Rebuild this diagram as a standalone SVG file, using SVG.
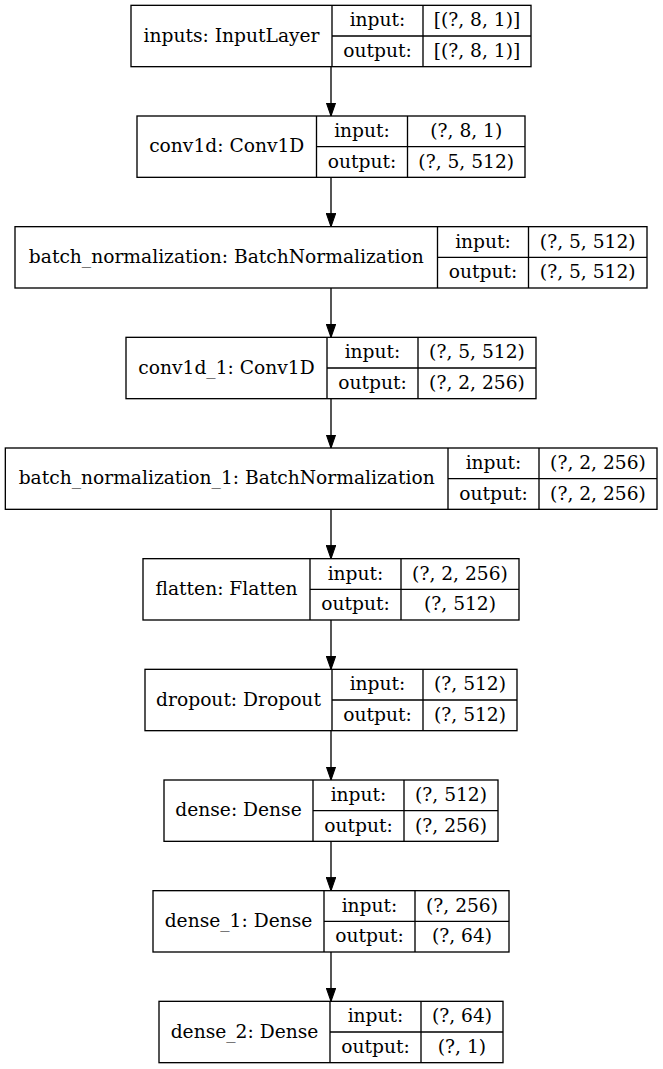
<svg xmlns="http://www.w3.org/2000/svg" width="663" height="1069" viewBox="0 0 663 1069">
  <style>
    .box { fill: #ffffff; stroke: #000000; stroke-width: 1.33; }
    .sep { stroke: #000000; stroke-width: 1.33; fill: none; }
    text { font-family: "DejaVu Serif", "Liberation Serif", serif; font-size: 18.67px; fill: #000000; text-anchor: middle; }
    .edge { stroke: #000000; stroke-width: 1.33; fill: none; marker-end: url(#arrow); }
  </style>
  <defs>
    <marker id="arrow" viewBox="0 0 10 7" refX="10" refY="3.5" markerWidth="13.33" markerHeight="9.33" markerUnits="userSpaceOnUse" orient="auto">
      <path d="M0,0 L10,3.5 L0,7 z" fill="#000000" stroke="#000000" stroke-width="0.8"/>
    </marker>
  </defs>
  <rect width="663" height="1069" fill="#ffffff"/>

  <!-- layer nodes: name | input/output | shapes -->
  <g id="inputs">
    <rect class="box" x="131" y="5.33" width="400" height="61.34"/>
    <path class="sep" d="M332,5.33 V66.67 M423,5.33 V66.67 M332,36 H531"/>
    <text x="231.5" y="41.6">inputs: InputLayer</text>
    <text x="377.5" y="26.33">input:</text>
    <text x="377.5" y="57">output:</text>
    <text x="477" y="26.33">[(?, 8, 1)]</text>
    <text x="477" y="57">[(?, 8, 1)]</text>
  </g>

  <g id="conv1d">
    <rect class="box" x="137" y="116" width="388" height="61.33"/>
    <path class="sep" d="M316.5,116 V177.33 M407.5,116 V177.33 M316.5,146.67 H525"/>
    <text x="226.75" y="152.3">conv1d: Conv1D</text>
    <text x="362" y="137">input:</text>
    <text x="362" y="167.67">output:</text>
    <text x="466.25" y="137">(?, 8, 1)</text>
    <text x="466.25" y="167.67">(?, 5, 512)</text>
  </g>

  <g id="batch_normalization">
    <rect class="box" x="15" y="226.67" width="632" height="61.33"/>
    <path class="sep" d="M437.5,226.67 V288 M528.5,226.67 V288 M437.5,257.33 H647"/>
    <text x="226.25" y="263">batch_normalization: BatchNormalization</text>
    <text x="483" y="247.67">input:</text>
    <text x="483" y="278.33">output:</text>
    <text x="587.75" y="247.67">(?, 5, 512)</text>
    <text x="587.75" y="278.33">(?, 5, 512)</text>
  </g>

  <g id="conv1d_1">
    <rect class="box" x="126" y="337.33" width="410" height="61.34"/>
    <path class="sep" d="M327,337.33 V398.67 M418,337.33 V398.67 M327,368 H536"/>
    <text x="226.5" y="373.6">conv1d_1: Conv1D</text>
    <text x="372.5" y="358.33">input:</text>
    <text x="372.5" y="389">output:</text>
    <text x="477" y="358.33">(?, 5, 512)</text>
    <text x="477" y="389">(?, 2, 256)</text>
  </g>

  <g id="batch_normalization_1">
    <rect class="box" x="5.33" y="448" width="651.67" height="61.33"/>
    <path class="sep" d="M448,448 V509.33 M539,448 V509.33 M448,478.67 H657"/>
    <text x="226.67" y="484.3">batch_normalization_1: BatchNormalization</text>
    <text x="493.5" y="469">input:</text>
    <text x="493.5" y="499.67">output:</text>
    <text x="598" y="469">(?, 2, 256)</text>
    <text x="598" y="499.67">(?, 2, 256)</text>
  </g>

  <g id="flatten">
    <rect class="box" x="143" y="558.67" width="376" height="61.33"/>
    <path class="sep" d="M310,558.67 V620 M401,558.67 V620 M310,589.33 H519"/>
    <text x="226.5" y="595">flatten: Flatten</text>
    <text x="355.5" y="579.67">input:</text>
    <text x="355.5" y="610.33">output:</text>
    <text x="460" y="579.67">(?, 2, 256)</text>
    <text x="460" y="610.33">(?, 512)</text>
  </g>

  <g id="dropout">
    <rect class="box" x="145" y="669.33" width="372" height="61.34"/>
    <path class="sep" d="M332,669.33 V730.67 M423,669.33 V730.67 M332,700 H517"/>
    <text x="238.5" y="705.6">dropout: Dropout</text>
    <text x="377.5" y="690.33">input:</text>
    <text x="377.5" y="721">output:</text>
    <text x="470" y="690.33">(?, 512)</text>
    <text x="470" y="721">(?, 512)</text>
  </g>

  <g id="dense">
    <rect class="box" x="164" y="780" width="334" height="61.33"/>
    <path class="sep" d="M313,780 V841.33 M404,780 V841.33 M313,810.67 H498"/>
    <text x="238.5" y="816.3">dense: Dense</text>
    <text x="358.5" y="801">input:</text>
    <text x="358.5" y="831.67">output:</text>
    <text x="451" y="801">(?, 512)</text>
    <text x="451" y="831.67">(?, 256)</text>
  </g>

  <g id="dense_1">
    <rect class="box" x="153" y="890.67" width="356" height="61.33"/>
    <path class="sep" d="M324,890.67 V952 M415,890.67 V952 M324,921.33 H509"/>
    <text x="238.5" y="927">dense_1: Dense</text>
    <text x="369.5" y="911.67">input:</text>
    <text x="369.5" y="942.33">output:</text>
    <text x="462" y="911.67">(?, 256)</text>
    <text x="462" y="942.33">(?, 64)</text>
  </g>

  <g id="dense_2">
    <rect class="box" x="159" y="1001.33" width="344" height="61.34"/>
    <path class="sep" d="M330,1001.33 V1062.67 M421,1001.33 V1062.67 M330,1032 H503"/>
    <text x="244.5" y="1037.6">dense_2: Dense</text>
    <text x="375.5" y="1022.33">input:</text>
    <text x="375.5" y="1053">output:</text>
    <text x="462" y="1022.33">(?, 64)</text>
    <text x="462" y="1053">(?, 1)</text>
  </g>

  <!-- connectors between consecutive layers -->
  <g id="edges">
    <line class="edge" x1="331" y1="66.67" x2="331" y2="116"/>
    <line class="edge" x1="331" y1="177.33" x2="331" y2="226.67"/>
    <line class="edge" x1="331" y1="288" x2="331" y2="337.33"/>
    <line class="edge" x1="331" y1="398.67" x2="331" y2="448"/>
    <line class="edge" x1="331" y1="509.33" x2="331" y2="558.67"/>
    <line class="edge" x1="331" y1="620" x2="331" y2="669.33"/>
    <line class="edge" x1="331" y1="730.67" x2="331" y2="780"/>
    <line class="edge" x1="331" y1="841.33" x2="331" y2="890.67"/>
    <line class="edge" x1="331" y1="952" x2="331" y2="1001.33"/>
  </g>
</svg>
